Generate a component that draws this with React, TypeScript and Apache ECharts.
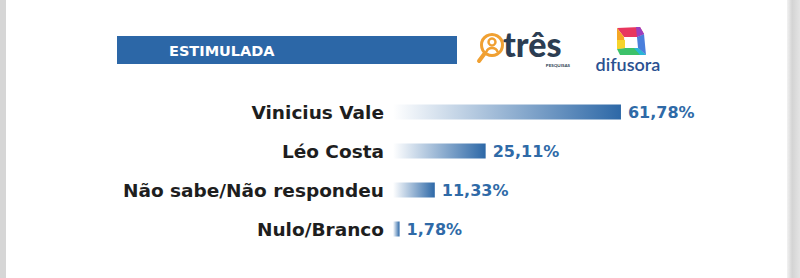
import React, { useEffect, useRef } from "react";
import * as echarts from "echarts";

const categories = ["Vinicius Vale", "Léo Costa", "Não sabe/Não respondeu", "Nulo/Branco"];
const values = [61.78, 25.11, 11.33, 1.78];
const bannerTitle = "ESTIMULADA";

const fmt = (v: number) => v.toFixed(2).replace(".", ",") + "%";

export default function App() {
  const ref = useRef<HTMLDivElement>(null);
  useEffect(() => {
    if (!ref.current) return;
    const chart = echarts.init(ref.current, null, { renderer: "svg" });
    const grad = new echarts.graphic.LinearGradient(0, 0, 1, 0, [
      { offset: 0, color: "#ffffff" },
      { offset: 1, color: "#2d68a7" },
    ]);
    const orange = "#f0a032";
    chart.setOption({
      animation: false,
      backgroundColor: "#ffffff",
      grid: { left: 393, top: 92.5, width: 369, height: 156, containLabel: false },
      xAxis: { type: "value", min: 0, max: 100, show: false },
      yAxis: {
        type: "category",
        data: categories,
        inverse: true,
        axisLine: { show: false },
        axisTick: { show: false },
        splitLine: { show: false },
        axisLabel: {
          margin: 9,
          fontSize: 18.5,
          fontWeight: "bold",
          fontFamily: "DejaVu Sans",
          color: "#1e1e1e",
        },
      },
      series: [
        {
          type: "bar",
          data: values,
          barWidth: 15,
          itemStyle: { color: grad },
          label: {
            show: true,
            position: "right",
            distance: 7,
            fontSize: 16,
            fontWeight: "bold",
            fontFamily: "DejaVu Sans",
            color: "#2f6aa7",
            formatter: (p: any) => fmt(p.value),
          },
        },
      ],
      graphic: [
        { type: "rect", shape: { x: 0, y: 0, width: 6, height: 278 }, style: { fill: "#d6d6d6" } },
        {
          type: "rect",
          shape: { x: 787, y: 0, width: 13, height: 278 },
          style: {
            fill: new echarts.graphic.LinearGradient(0, 0, 1, 0, [
              { offset: 0, color: "#f2f2f2" },
              { offset: 0.4, color: "#d4d4d4" },
              { offset: 1, color: "#e4e4e4" },
            ]),
          },
        },
        { type: "rect", shape: { x: 117, y: 36, width: 340, height: 28 }, style: { fill: "#2c67a7" } },
        {
          type: "text",
          x: 169,
          y: 50.5,
          style: {
            text: bannerTitle,
            fill: "#ffffff",
            fontSize: 14.5,
            fontWeight: "bold",
            fontFamily: "DejaVu Sans",
            verticalAlign: "middle",
          },
        },
        // três logo icon
        { type: "circle", shape: { cx: 492, cy: 45, r: 10.5 }, style: { fill: "none", stroke: orange, lineWidth: 3 } },
        { type: "circle", shape: { cx: 492, cy: 42, r: 3.5 }, style: { fill: "none", stroke: orange, lineWidth: 2.5 } },
        { type: "arc", shape: { cx: 492, cy: 54, r: 6, startAngle: Math.PI * 1.1, endAngle: Math.PI * 1.9 }, style: { stroke: orange, lineWidth: 2.5, fill: "none" } },
        { type: "line", shape: { x1: 485, y1: 53, x2: 479, y2: 61 }, style: { stroke: orange, lineWidth: 4, lineCap: "round" } },
        {
          type: "text",
          x: 503,
          y: 60,
          style: { text: "três", fill: "#2c3d52", fontSize: 34, fontWeight: 900, fontFamily: "Lato", verticalAlign: "bottom" },
        },
        {
          type: "text",
          x: 570,
          y: 65,
          style: { text: "PESQUISAS", fill: "#2c3d52", fontSize: 4.5, fontWeight: "bold", fontFamily: "Lato", align: "right", verticalAlign: "middle" },
        },
        // difusora icon
        { type: "polygon", shape: { points: [[617, 28], [640, 27], [644, 34], [637, 37], [624, 37]] }, style: { fill: "#e8365e" } },
        { type: "polygon", shape: { points: [[617, 28], [624, 37], [625, 48], [617, 49]] }, style: { fill: "#f5a623" } },
        { type: "polygon", shape: { points: [[617, 49], [625, 48], [638, 48], [646, 55], [620, 55]] }, style: { fill: "#3cc26a" } },
        { type: "polygon", shape: { points: [[637, 37], [644, 34], [646, 55], [638, 48]] }, style: { fill: "#4a7fdc" } },
        { type: "polygon", shape: { points: [[617, 40], [625, 40], [625, 48], [617, 49]] }, style: { fill: "#f7d42a" } },
        { type: "polygon", shape: { points: [[638, 48], [646, 55], [640, 55], [634, 48]] }, style: { fill: "#29b6d8" } },
        { type: "polygon", shape: { points: [[636, 27], [640, 27], [644, 34], [637, 37]] }, style: { fill: "#9b3fbf" } },
        {
          type: "text",
          x: 628,
          y: 64,
          style: { text: "difusora", fill: "#2b5191", fontSize: 18, fontWeight: 600, fontFamily: "Lato", align: "center", verticalAlign: "middle" },
        },
      ],
    });
    return () => chart.dispose();
  }, []);
  return (
    <div
      ref={ref}
      style={{ position: "fixed", left: 0, top: 0, width: 800, height: 278 }}
    />
  );
}
